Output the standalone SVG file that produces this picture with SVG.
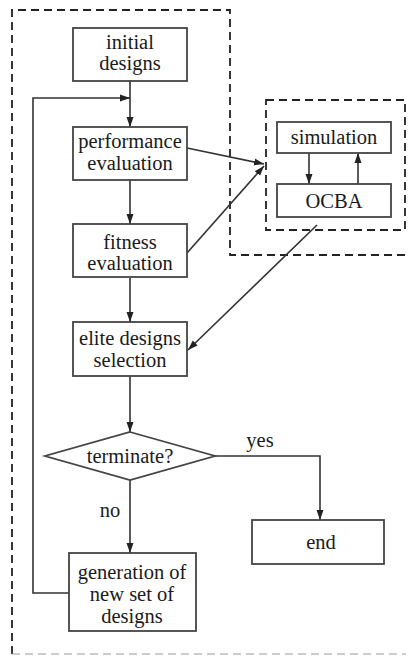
<svg xmlns="http://www.w3.org/2000/svg" width="409" height="656" viewBox="0 0 409 656">
<defs>
<marker id="ah" viewBox="0 0 10 10" refX="10" refY="5" markerWidth="10" markerHeight="10" markerUnits="userSpaceOnUse" orient="auto">
<path d="M0,1.5 L10,5 L0,8.5 Z" fill="#222"/>
</marker>
<style>
.box{fill:#fff;stroke:#444;stroke-width:1.8}
.dash{fill:none;stroke:#222;stroke-width:1.8;stroke-dasharray:8 5}
.ln{fill:none;stroke:#333;stroke-width:1.6}
text{font-size:20.5px;fill:#1a1a1a;text-anchor:middle}
</style>
</defs>
<rect width="409" height="656" fill="#fff"/>
<g font-family="'Liberation Serif', 'DejaVu Serif', serif">
<g id="boundary">
<path class="dash" d="M12,654 L12,10 L230,10 L230,255 L406,255"/>
<path class="dash" d="M12,654 L406,654" style="stroke:#999;stroke-width:1.2"/>
</g>
<g id="ocba-group">
<rect class="dash" x="266" y="100" width="139" height="130"/>
</g>
<g id="connectors">
<line class="ln" x1="130" y1="81" x2="130" y2="127" marker-end="url(#ah)"/>
<path class="ln" d="M69,593 L33,593 L33,98 L130,98" marker-end="url(#ah)"/>
<line class="ln" x1="130" y1="180" x2="130" y2="224" marker-end="url(#ah)"/>
<line class="ln" x1="130" y1="278" x2="130" y2="322" marker-end="url(#ah)"/>
<line class="ln" x1="130" y1="376" x2="130" y2="432" marker-end="url(#ah)"/>
<line class="ln" x1="130" y1="480" x2="130" y2="553" marker-end="url(#ah)"/>
<path class="ln" d="M215,456 L320,456 L320,520" marker-end="url(#ah)"/>
<line class="ln" x1="187" y1="148" x2="264" y2="164" marker-end="url(#ah)"/>
<line class="ln" x1="187" y1="253" x2="264" y2="166" marker-end="url(#ah)"/>
<line class="ln" x1="317" y1="225" x2="188" y2="350" marker-end="url(#ah)"/>
<line class="ln" x1="309" y1="153" x2="309" y2="184" marker-end="url(#ah)"/>
<line class="ln" x1="358" y1="184" x2="358" y2="153" marker-end="url(#ah)"/>
<text x="260" y="447">yes</text>
<text x="110" y="517">no</text>
</g>
<g id="initial">
<rect class="box" x="73" y="28" width="114" height="53"/>
<text x="130" y="49">initial</text>
<text x="130" y="70">designs</text>
</g>
<g id="performance">
<rect class="box" x="73" y="127" width="114" height="53"/>
<text x="130" y="148">performance</text>
<text x="130" y="170">evaluation</text>
</g>
<g id="fitness">
<rect class="box" x="73" y="224" width="114" height="53"/>
<text x="130" y="249">fitness</text>
<text x="130" y="270">evaluation</text>
</g>
<g id="elite">
<rect class="box" x="73" y="322" width="114" height="54"/>
<text x="130" y="345">elite designs</text>
<text x="130" y="367">selection</text>
</g>
<g id="terminate">
<path class="box" d="M130,432 L215,456 L130,480 L45,456 Z"/>
<text x="130" y="463">terminate?</text>
</g>
<g id="end">
<rect class="box" x="252" y="520" width="132" height="44"/>
<text x="321" y="549">end</text>
</g>
<g id="generation">
<rect class="box" x="69" y="553" width="127" height="78"/>
<text x="132" y="579">generation of</text>
<text x="132" y="601">new set of</text>
<text x="132" y="623">designs</text>
</g>
<g id="simulation">
<rect class="box" x="277" y="122" width="114" height="31"/>
<text x="334" y="144">simulation</text>
</g>
<g id="ocba">
<rect class="box" x="277" y="184" width="114" height="33"/>
<text x="334" y="208">OCBA</text>
</g>
</g>
</svg>
